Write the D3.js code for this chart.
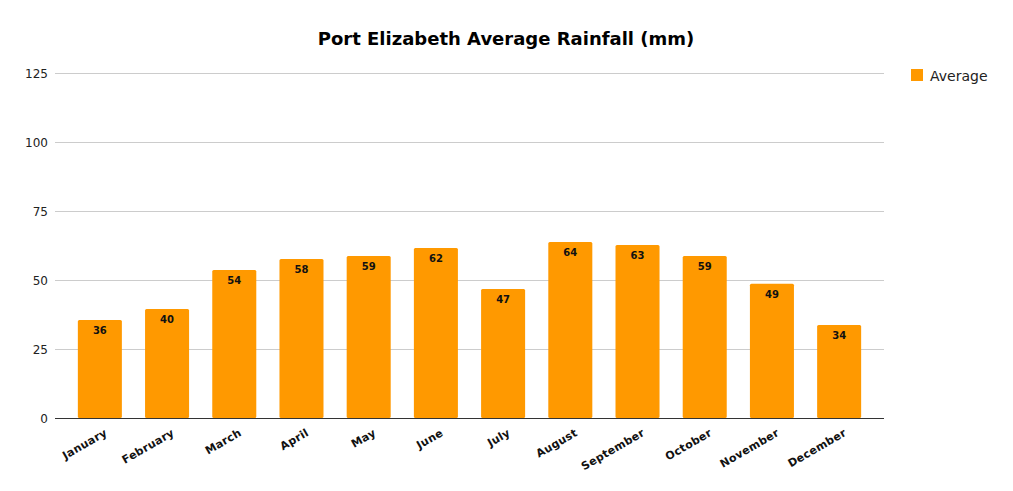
<!DOCTYPE html>
<html>
<head>
<meta charset="utf-8">
<script src="https://cdn.jsdelivr.net/npm/d3@7"></script>
<style>
	body { margin: 0; background: #fff; }
	text { font-family: "DejaVu Sans", sans-serif; }
</style>
</head>
<body>
<svg width="1013" height="491"></svg>
<script>
var months = ["January", "February", "March", "April", "May", "June", "July",
	"August", "September", "October", "November", "December"];
var average = [35.5, 39.5, 53.6, 57.6, 58.7, 61.6, 46.7, 63.8, 62.7, 58.7, 48.6, 33.7];
var yTicks = [0, 25, 50, 75, 100, 125];

var svg = d3.select("svg"),
	plotLeft = 55, plotRight = 884, plotTop = 73, plotBottom = 418;

var x = d3.scaleBand().domain(months).range([plotLeft, plotRight])
	.paddingInner(0.345).paddingOuter(0.34);
var y = d3.scaleLinear().domain([0, 125]).range([plotBottom, plotTop]);

// grid
svg.selectAll(".grid")
	.data(yTicks.slice(1))
	.enter().append("line")
	.attr("x1", plotLeft).attr("x2", plotRight)
	.attr("y1", function(d) { return y(d) + 0.5; })
	.attr("y2", function(d) { return y(d) + 0.5; })
	.attr("stroke", "#cccccc").attr("stroke-width", 1);

// y labels
svg.selectAll(".ylab")
	.data(yTicks)
	.enter().append("text")
	.attr("x", plotLeft - 7)
	.attr("y", function(d) { return y(d) + 5; })
	.attr("text-anchor", "end")
	.attr("font-size", 12)
	.attr("fill", "#222")
	.text(function(d) { return d; });

// bars
svg.selectAll(".bar")
	.data(average)
	.enter().append("rect")
	.attr("x", function(d, i) { return x(months[i]); })
	.attr("width", x.bandwidth())
	.attr("y", function(d) { return y(d); })
	.attr("height", function(d) { return y(0) - y(d); })
	.attr("rx", 1.5)
	.attr("fill", "#ff9900");

// bar values
svg.selectAll(".val")
	.data(average)
	.enter().append("text")
	.attr("x", function(d, i) { return x(months[i]) + x.bandwidth() / 2; })
	.attr("y", function(d) { return y(d) + 14; })
	.attr("text-anchor", "middle")
	.attr("font-size", 10)
	.attr("font-weight", "bold")
	.attr("fill", "#111")
	.text(function(d) { return Math.round(d); });

// baseline
svg.append("line")
	.attr("x1", plotLeft).attr("x2", plotRight)
	.attr("y1", y(0) + 0.5).attr("y2", y(0) + 0.5)
	.attr("stroke", "#333").attr("stroke-width", 1.2);

// x labels
svg.selectAll(".xlab")
	.data(months)
	.enter().append("text")
	.attr("transform", function(d) {
		return "translate(" + (x(d) + x.bandwidth() / 2 + 8) + "," + (plotBottom + 17) + ") rotate(-30)";
	})
	.attr("text-anchor", "end")
	.attr("font-size", 11)
	.attr("font-weight", "bold")
	.attr("letter-spacing", 0.3)
	.attr("fill", "#111")
	.text(function(d) { return d; });

// title
svg.append("text")
	.attr("x", 506)
	.attr("y", 45)
	.attr("text-anchor", "middle")
	.attr("font-size", 18)
	.attr("font-weight", "bold")
	.attr("fill", "#000")
	.text("Port Elizabeth Average Rainfall (mm)");

// legend
svg.append("rect")
	.attr("x", 911).attr("y", 69)
	.attr("width", 12).attr("height", 12)
	.attr("fill", "#ff9900");
svg.append("text")
	.attr("x", 930).attr("y", 81)
	.attr("font-size", 14)
	.attr("fill", "#222")
	.text("Average");
</script>
</body>
</html>
